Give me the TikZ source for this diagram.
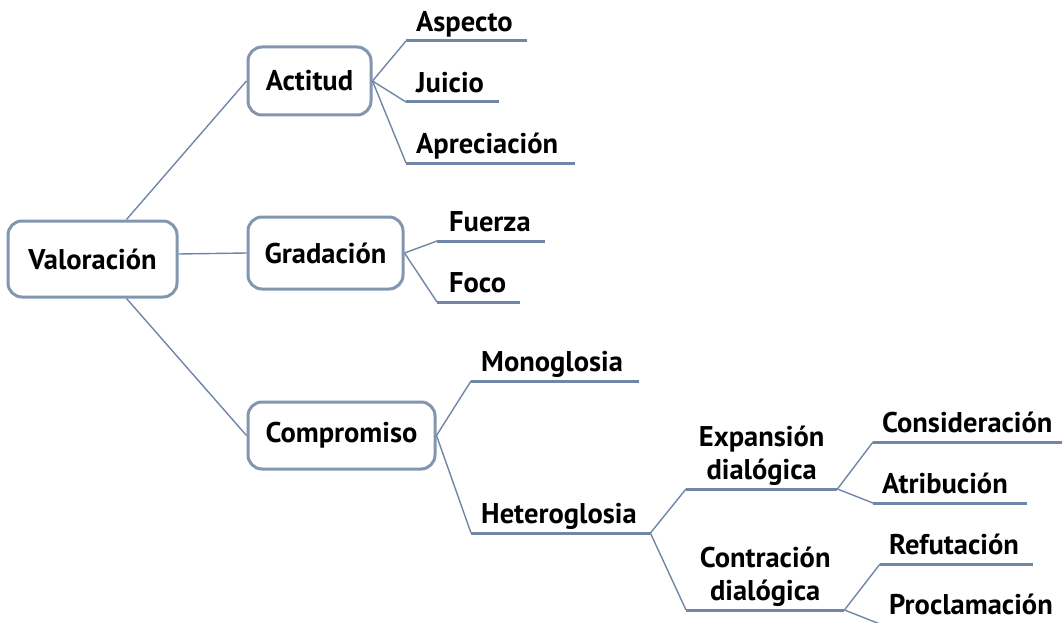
\documentclass[tikz,border=0pt]{standalone}
\usepackage{fontspec}
\setmainfont{PT Sans}
\usetikzlibrary{positioning}
\definecolor{frame}{HTML}{8396B0}
\definecolor{branch}{HTML}{7086A6}
\tikzset{
  box/.style={draw=frame,line width=3pt,rounded corners=14pt,fill=white,
              font=\fontsize{28.5}{33}\selectfont\bfseries,inner sep=0pt},
  leaf/.style={anchor=south west,inner xsep=10pt,inner ysep=0pt,text depth=9pt,
               text width=#1,align=left,font=\fontsize{28.5}{33}\selectfont\bfseries},
  twoline/.style={leaf=#1,align=center,text depth=42pt},
  link/.style={draw=branch,line width=1.4pt},
  underline/.style={draw=branch,line width=3pt}
}

\begin{document}
\begin{tikzpicture}[x=1pt,y=-1pt]
  \useasboundingbox (0,0) rectangle (1062,623);
  % main boxes
  \node[box,minimum width=169pt,minimum height=76pt] (val)   at (92.5,259)  {Valoración};
  \node[box,minimum width=123pt,minimum height=68pt] (act)   at (309.5,81)  {Actitud};
  \node[box,minimum width=155pt,minimum height=72pt] (grad)  at (325.5,253) {Gradación};
  \node[box,minimum width=187pt,minimum height=67pt] (comp)  at (341.5,435.5) {Compromiso};
  % leaves
  \node[leaf=101pt] (asp)  at (406,41)  {Aspecto};
  \node[leaf=73pt]  (jui)  at (406,102) {Juicio};
  \node[leaf=149pt] (apr)  at (406,163) {Apreciación};
  \node[leaf=84pt,inner xsep=12pt] (fue) at (437,241) {Fuerza};
  \node[leaf=59pt,inner xsep=12pt] (foc) at (437,302) {Foco};
  \node[leaf=148pt] (mono) at (471,381) {Monoglosia};
  \node[leaf=159pt] (het)  at (471,533) {Heteroglosia};
  \node[twoline=131pt] (exp) at (686,489) {Expansión\\dialógica};
  \node[twoline=138pt] (con) at (686,610) {Contración\\dialógica};
  \node[leaf=171pt,inner xsep=9pt] (cns) at (873,442) {Consideración};
  \node[leaf=136pt,inner xsep=9pt] (atr) at (873,503) {Atribución};
  \node[leaf=135pt,inner xsep=9pt] (ref) at (880,564) {Refutación};
  \node[leaf=170pt,inner xsep=9pt] (pro) at (880,624) {Proclamación};
  \foreach \n in {asp,jui,apr,fue,foc,mono,het,exp,con,cns,atr,ref,pro}
    \draw[underline] (\n.south west) -- (\n.south east);
  % connectors
  \draw[link] ([xshift=34pt]val.north) -- (act.west);
  \draw[link] ([yshift=5pt]val.east) -- (grad.west);
  \draw[link] ([xshift=34pt]val.south) -- (comp.west);
  \foreach \n in {asp,jui,apr} \draw[link] (act.east) -- (\n.south west);
  \foreach \n in {fue,foc} \draw[link] (grad.east) -- (\n.south west);
  \foreach \n in {mono,het} \draw[link] (comp.east) -- (\n.south west);
  \foreach \n in {exp,con} \draw[link] (het.south east) -- (\n.south west);
  \foreach \n in {cns,atr} \draw[link] (exp.south east) -- (\n.south west);
  \foreach \n in {ref,pro} \draw[link] (con.south east) -- (\n.south west);
\end{tikzpicture}
\end{document}
